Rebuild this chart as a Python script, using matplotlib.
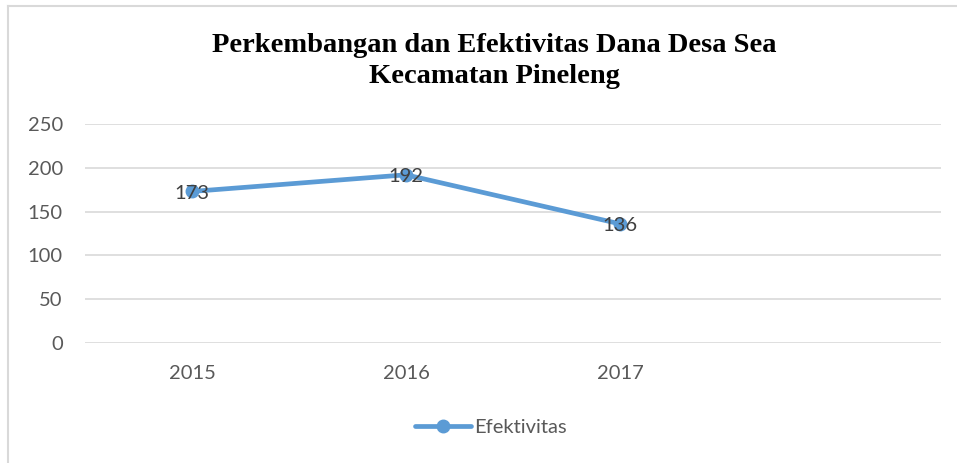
import numpy as np
import matplotlib
matplotlib.use("Agg")
import matplotlib.pyplot as plt
from matplotlib.lines import Line2D

## Data ##
years = ['2015', '2016', '2017']
efektivitas = [173, 192, 136]
y_ticks = [0, 50, 100, 150, 200, 250]
n_slots = 4  # category axis has one empty slot at the end

title = 'Perkembangan dan Efektivitas Dana Desa Sea\nKecamatan Pineleng'
series_name = 'Efektivitas'

## Style ##
line_color = '#5B9BD5'
grid_color = '#D9D9D9'
text_color = '#595959'
label_color = '#404040'
plt.rcParams['font.family'] = ['Lato', 'DejaVu Sans']

## Plot ##
fig = plt.figure(figsize=(9.57, 4.63), dpi=100)
ax = fig.add_axes([85 / 957, 1 - 343 / 463, (941 - 85) / 957, (343 - 124) / 463])

x = np.arange(len(years))
ax.plot(x, efektivitas, color=line_color, lw=3.4, marker='o', markersize=9,
        solid_capstyle='round', zorder=3)

# Data labels centered on the points
for xi, v in zip(x, efektivitas):
    ax.text(xi, v - 2, str(v), ha='center', va='center', fontsize=14.5,
            color=label_color, zorder=4)

ax.set_xlim(-0.5, n_slots - 0.5)
ax.set_ylim(0, 250)
ax.set_yticks(y_ticks)
ax.set_xticks(x)
ax.set_xticklabels(years)
ax.grid(axis='y', color=grid_color, lw=1.2)
ax.set_axisbelow(True)
for s in ax.spines.values():
    s.set_visible(False)
ax.tick_params(axis='both', length=0, labelsize=14.5, colors=text_color)
ax.tick_params(axis='y', pad=16)
ax.tick_params(axis='x', pad=16)

# Title
fig.text(494 / 957, 1 - 61 / 463, title, ha='center', va='center',
         fontsize=20.5, fontweight='bold', family='Liberation Serif',
         linespacing=1.28, color='black')

# Legend
legend_elements = [Line2D([0], [0], color=line_color, lw=3.4, marker='o',
                          markersize=9, solid_capstyle='round', label=series_name)]
fig.legend(handles=legend_elements, loc='center', bbox_to_anchor=(491 / 957, 1 - 427 / 463),
           frameon=False, fontsize=14.5, labelcolor=text_color, handlelength=2.8,
           handletextpad=0.15)

# Chart border (left and top visible)
fig.add_artist(Line2D([8 / 957, 8 / 957], [0, 1 - 6 / 463], color=grid_color, lw=1.5,
                      transform=fig.transFigure))
fig.add_artist(Line2D([8 / 957, 1], [1 - 6 / 463, 1 - 6 / 463], color=grid_color, lw=1.5,
                      transform=fig.transFigure))

fig.savefig('out.png', dpi=100)
